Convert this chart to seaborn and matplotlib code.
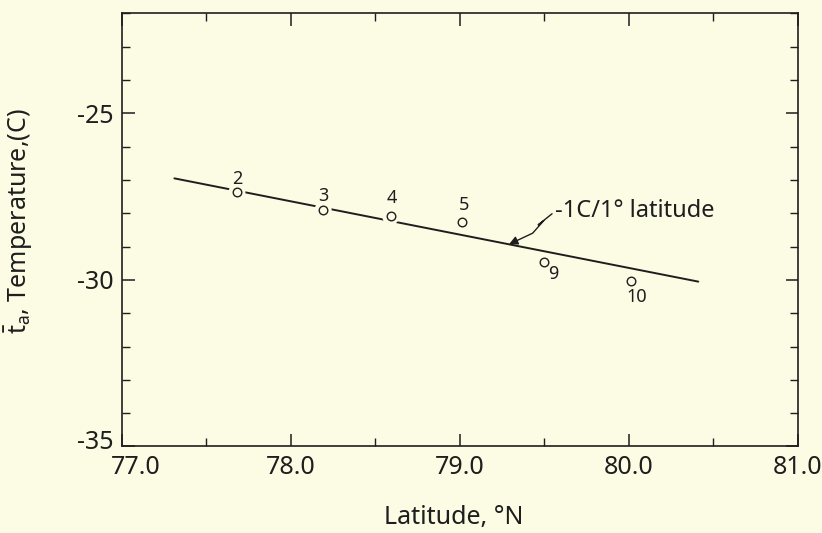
import matplotlib
matplotlib.use("Agg")
import matplotlib.pyplot as plt
import matplotlib.transforms as mtransforms
import pandas as pd
import seaborn as sns
from matplotlib.patches import FancyArrowPatch
from matplotlib.path import Path
from matplotlib.ticker import FixedLocator, MultipleLocator

# Station mean air temperatures against latitude
station_ids = ["2", "3", "4", "5", "9", "10"]
station_lat = [77.68, 78.19, 78.59, 79.01, 79.50, 80.01]
station_temp = [-27.37, -27.89, -28.09, -28.26, -29.45, -30.03]

# Fitted lapse of -1 C per degree of latitude
trend_lat = [77.31, 80.41]
trend_temp = [-26.95, -30.05]

x_ticks = [77.0, 78.0, 79.0, 80.0, 81.0]
x_tick_labels = ["77.0", "78.0", "79.0", "80.0", "81.0"]
y_ticks = [-35, -30, -25]
y_tick_labels = ["-35", "-30", "-25"]

trend_label = "-1C/1\u00b0 latitude"
trend_label_pos = (79.565, -27.92)
trend_arrow_tip = (79.29, -28.93)

PAPER = "#fcfbe4"
INK = "#1e1e1e"

sns.set_theme(style="ticks")
plt.rcParams["font.family"] = ["Noto Sans", "DejaVu Sans"]
plt.rcParams["axes.unicode_minus"] = False
plt.rcParams["mathtext.fontset"] = "custom"
plt.rcParams["mathtext.rm"] = "Noto Sans"
plt.rcParams["mathtext.it"] = "Noto Sans"

stations = pd.DataFrame({"station": station_ids, "lat": station_lat, "temp": station_temp})
trend = pd.DataFrame({"lat": trend_lat, "temp": trend_temp})

fig = plt.figure(figsize=(8.22, 5.33), dpi=100, facecolor=PAPER)
ax = fig.add_axes([0.1484, 0.1623, 0.8224, 0.8124])
ax.set_facecolor(PAPER)

sns.lineplot(data=trend, x="lat", y="temp", ax=ax, color=INK, linewidth=1.4, zorder=2)
# paper-coloured halo so the line breaks around each station marker
sns.scatterplot(data=stations, x="lat", y="temp", ax=ax, s=150, color=PAPER,
                edgecolor="none", linewidth=0, zorder=3)
sns.scatterplot(data=stations, x="lat", y="temp", ax=ax, s=38, facecolor=PAPER,
                edgecolor=INK, linewidth=1.0, zorder=4)

label_offsets = {"2": (0, 9.5), "3": (0, 10), "4": (1, 13), "5": (2, 12),
                 "9": (6.5, -9), "10": (4, -11.5)}
for sid, la, te in zip(station_ids, station_lat, station_temp):
    ax.annotate(sid, (la, te), xytext=label_offsets[sid], textcoords="offset points",
                ha="center", va="center", fontsize=13, color=INK)

ax.text(*trend_label_pos, trend_label, ha="left", va="center", fontsize=17, color=INK)

# squiggly leader from the label down to the trend line (offsets in points from the tip)
leader = [(31, 22), (21, 14), (25, 17), (17, 8), (0, 0)]
pts_tr = (mtransforms.Affine2D().scale(fig.dpi / 72.0)
          + mtransforms.ScaledTranslation(*trend_arrow_tip, ax.transData))
arrow = FancyArrowPatch(path=Path(leader), arrowstyle="-|>", mutation_scale=13,
                        color=INK, lw=1.0, transform=pts_tr, zorder=5)
ax.add_patch(arrow)

ax.set_xlim(77.0, 81.0)
ax.set_ylim(-35, -22)
ax.xaxis.set_major_locator(FixedLocator(x_ticks))
ax.set_xticklabels(x_tick_labels)
ax.xaxis.set_minor_locator(MultipleLocator(0.5))
ax.yaxis.set_major_locator(FixedLocator(y_ticks))
ax.set_yticklabels(y_tick_labels)
ax.yaxis.set_minor_locator(MultipleLocator(1))

ax.tick_params(which="both", direction="in", top=True, right=True, color=INK,
               labelcolor=INK)
ax.tick_params(which="major", length=9, width=1.1, labelsize=18, pad=6)
ax.tick_params(which="minor", length=6, width=1.0)

# nudge the corner labels apart so "-35" and "77.0" do not collide
first_x = ax.xaxis.get_major_ticks()[0].label1
first_x.set_transform(first_x.get_transform()
                      + mtransforms.ScaledTranslation(10 / 72, 0, fig.dpi_scale_trans))
first_y = ax.yaxis.get_major_ticks()[0].label1
first_y.set_transform(first_y.get_transform()
                      + mtransforms.ScaledTranslation(0, 5 / 72, fig.dpi_scale_trans))

for sp in ax.spines.values():
    sp.set_color(INK)
    sp.set_linewidth(1.2)

ax.set_xlabel("Latitude, \u00b0N", fontsize=18, color=INK)
ax.set_ylabel(r"$\bar{t}_a$, Temperature,(C)", fontsize=18, color=INK)
ax.xaxis.set_label_coords(0.49, -0.135)
ax.yaxis.set_label_coords(-0.13, 0.52)

fig.savefig("out.png", dpi=100, facecolor=PAPER)
